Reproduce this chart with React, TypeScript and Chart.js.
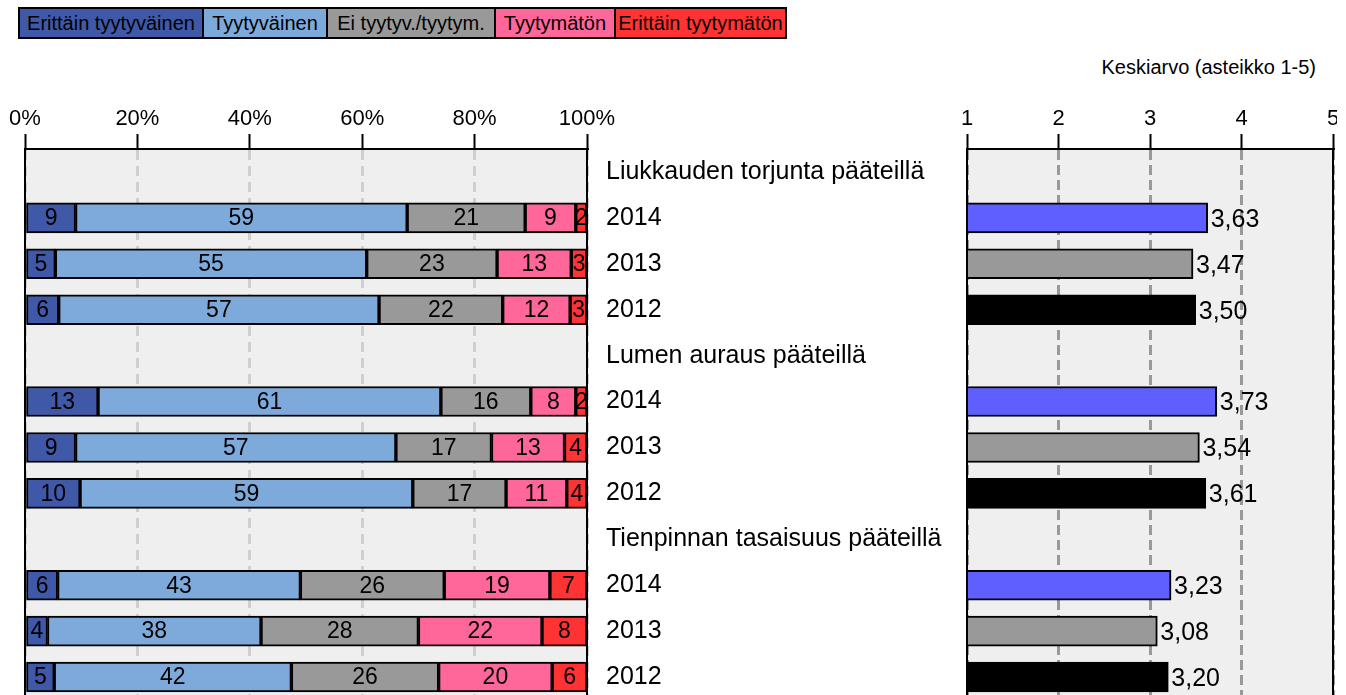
import React, { useEffect, useRef } from 'react';
import { Chart, registerables } from 'chart.js';
Chart.register(...registerables);

const groups = ['Liukkauden torjunta pääteillä', 'Lumen auraus pääteillä', 'Tienpinnan tasaisuus pääteillä'];
const years = ['2014', '2013', '2012'];
const legendLabels = ['Erittäin tyytyväinen', 'Tyytyväinen', 'Ei tyytyv./tyytym.', 'Tyytymätön', 'Erittäin tyytymätön'];
const segmentColors = ['#3f58a8', '#7eaadb', '#999999', '#ff6699', '#ff3333'];
// Rows in order: group1 2014, 2013, 2012, group2 ..., group3 ... (shares in %, labels shown rounded)
const verySatisfied = [9, 5.4, 6, 13, 9, 9.8, 5.8, 4, 5.2];
const satisfied = [59, 55.4, 57, 61, 57, 59.2, 43.2, 38, 42.2];
const neutral = [21, 23.2, 22, 16, 17, 16.6, 25.6, 28, 26.2];
const dissatisfied = [9, 13.2, 12, 8, 13, 10.8, 18.8, 22, 20.2];
const veryDissatisfied = [2, 2.8, 3, 2, 4, 3.6, 6.6, 8, 6.2];
const means = [3.63, 3.47, 3.5, 3.73, 3.54, 3.61, 3.23, 3.08, 3.2];
const yearColors = ['#5f5fff', '#999999', '#000000'];
const percentTickStep = 20;
const meanMin = 1;
const meanMax = 5;
const meanTitle = 'Keskiarvo (asteikko 1-5)';

const FONT = '"Liberation Sans", Arial, Helvetica, sans-serif';

const rowLabels: string[] = [];
groups.forEach((g) => {
  rowLabels.push(g);
  years.forEach((y) => rowLabels.push(y));
});

function expand(values: number[]): (number | null)[] {
  const out: (number | null)[] = [];
  groups.forEach((_, gi) => {
    out.push(null);
    years.forEach((_, yi) => out.push(values[gi * years.length + yi]));
  });
  return out;
}

const rowColors: string[] = [];
groups.forEach(() => {
  rowColors.push('rgba(0,0,0,0)');
  yearColors.forEach((c) => rowColors.push(c));
});

const plotBox = {
  id: 'plotBox',
  beforeDraw(chart: any) {
    const { ctx, chartArea: a } = chart;
    ctx.save();
    ctx.fillStyle = '#efefef';
    ctx.fillRect(a.left, a.top, a.right - a.left, a.bottom - a.top);
    ctx.restore();
  },
  afterDatasetsDraw(chart: any) {
    const { ctx, chartArea: a } = chart;
    ctx.save();
    ctx.strokeStyle = '#000';
    ctx.lineWidth = 2;
    ctx.beginPath();
    ctx.moveTo(a.left, a.top);
    ctx.lineTo(a.left, a.bottom);
    ctx.moveTo(a.right, a.top);
    ctx.lineTo(a.right, a.bottom);
    ctx.moveTo(a.left, a.top);
    ctx.lineTo(a.right, a.top);
    ctx.stroke();
    ctx.restore();
  },
};

const segmentLabels = {
  id: 'segmentLabels',
  afterDatasetsDraw(chart: any) {
    const { ctx } = chart;
    ctx.save();
    ctx.font = `23px ${FONT}`;
    ctx.fillStyle = '#000';
    ctx.textAlign = 'center';
    ctx.textBaseline = 'middle';
    chart.data.datasets.forEach((ds: any, i: number) => {
      const meta = chart.getDatasetMeta(i);
      meta.data.forEach((el: any, j: number) => {
        const v = ds.data[j];
        if (v == null) return;
        const p = el.getProps(['x', 'base', 'y'], true);
        ctx.fillText(String(Math.round(v)), (p.x + p.base) / 2, p.y + 1);
      });
    });
    ctx.restore();
  },
};

const meanLabels = {
  id: 'meanLabels',
  afterDatasetsDraw(chart: any) {
    const { ctx } = chart;
    ctx.save();
    ctx.font = `25px ${FONT}`;
    ctx.fillStyle = '#000';
    ctx.textAlign = 'left';
    ctx.textBaseline = 'middle';
    const ds = chart.data.datasets[0];
    const meta = chart.getDatasetMeta(0);
    meta.data.forEach((el: any, j: number) => {
      const v = ds.data[j];
      if (v == null) return;
      const p = el.getProps(['x', 'y'], true);
      ctx.fillText(v.toFixed(2).replace('.', ','), p.x + 3, p.y + 2);
    });
    ctx.restore();
  },
};

const AXIS_TOP_PAD = 60;
const AXIS_HEIGHT = 89;

export default function App() {
  const leftRef = useRef<HTMLCanvasElement>(null);
  const rightRef = useRef<HTMLCanvasElement>(null);

  useEffect(() => {
    const series = [verySatisfied, satisfied, neutral, dissatisfied, veryDissatisfied];
    const left = new Chart(leftRef.current!, {
      type: 'bar',
      data: {
        labels: rowLabels,
        datasets: series.map((s, i) => ({
          label: legendLabels[i],
          data: expand(s),
          backgroundColor: segmentColors[i],
          borderColor: '#000',
          borderWidth: 2,
          borderSkipped: false,
          barThickness: 30,
        })),
      },
      options: {
        indexAxis: 'y',
        responsive: false,
        animation: false,
        events: [],
        layout: { padding: { left: 25, right: 53, top: AXIS_TOP_PAD, bottom: 60 } },
        plugins: { legend: { display: false }, tooltip: { enabled: false }, title: { display: false } },
        scales: {
          x: {
            position: 'top',
            stacked: true,
            min: 0,
            max: 100,
            afterFit: (s: any) => { s.height = AXIS_HEIGHT; },
            ticks: {
              stepSize: percentTickStep,
              callback: (v: any) => `${v}%`,
              font: { family: FONT, size: 22 },
              color: '#000',
              padding: 2,
            },
            grid: {
              color: '#cfcfcf',
              lineWidth: 3,
              tickLength: 15,
              tickColor: '#000',
              tickWidth: 2,
            },
            border: { display: true, color: '#000', width: 2, dash: [10, 6] },
          },
          y: {
            stacked: true,
            display: false,
          },
        },
      },
      plugins: [plotBox, segmentLabels],
    } as any);

    const right = new Chart(rightRef.current!, {
      type: 'bar',
      data: {
        labels: rowLabels,
        datasets: [
          {
            label: meanTitle,
            data: expand(means),
            backgroundColor: rowColors,
            borderColor: '#000',
            borderWidth: 2,
            borderSkipped: false,
            barThickness: 30,
          },
        ],
      },
      options: {
        indexAxis: 'y',
        responsive: false,
        animation: false,
        events: [],
        layout: { padding: { left: 6, right: 13, top: AXIS_TOP_PAD, bottom: 60 } },
        plugins: { legend: { display: false }, tooltip: { enabled: false }, title: { display: false } },
        scales: {
          x: {
            position: 'top',
            min: meanMin,
            max: meanMax,
            afterFit: (s: any) => { s.height = AXIS_HEIGHT; },
            ticks: {
              stepSize: 1,
              font: { family: FONT, size: 22 },
              color: '#000',
              padding: 2,
            },
            grid: {
              color: '#999999',
              lineWidth: 3,
              tickLength: 15,
              tickColor: '#000',
              tickWidth: 2,
            },
            border: { display: true, color: '#000', width: 2, dash: [10, 5] },
          },
          y: {
            position: 'left',
            afterFit: (s: any) => { s.width = 361; },
            grid: { display: false },
            border: { display: false },
            ticks: {
              crossAlign: 'far',
              font: { family: FONT, size: 25 },
              color: '#000',
              autoSkip: false,
            },
          },
        },
      },
      plugins: [plotBox, meanLabels],
    } as any);

    return () => {
      left.destroy();
      right.destroy();
    };
  }, []);

  const legendWidths = [182, 124, 168, 120, 171];

  return (
    <div
      style={{
        position: 'fixed',
        left: 0,
        top: 0,
        width: 1346,
        height: 695,
        overflow: 'hidden',
        background: '#fff',
        fontFamily: FONT,
      }}
    >
      <div
        style={{
          position: 'absolute',
          left: 18,
          top: 7,
          display: 'flex',
          border: '2px solid #000',
          boxSizing: 'border-box',
        }}
      >
        {legendLabels.map((l, i) => (
          <div
            key={l}
            style={{
              width: legendWidths[i],
              height: 28,
              lineHeight: '28px',
              background: segmentColors[i],
              borderLeft: i === 0 ? 'none' : '2px solid #000',
              boxSizing: 'border-box',
              textAlign: 'center',
              fontSize: 20,
              color: '#000',
              whiteSpace: 'nowrap',
              overflow: 'hidden',
            }}
          >
            {l}
          </div>
        ))}
      </div>
      <div
        style={{
          position: 'absolute',
          right: 30,
          top: 56,
          fontSize: 20,
          color: '#000',
          whiteSpace: 'nowrap',
        }}
      >
        {meanTitle}
      </div>
      <canvas
        ref={leftRef}
        width={640}
        height={760}
        style={{ position: 'absolute', left: 0, top: 0, width: 640, height: 760 }}
      />
      <div style={{ position: 'absolute', left: 600, top: 0, width: 737, height: 760, overflow: 'hidden' }}>
        <canvas
          ref={rightRef}
          width={746}
          height={760}
          style={{ position: 'absolute', left: 0, top: 0, width: 746, height: 760 }}
        />
      </div>
    </div>
  );
}
